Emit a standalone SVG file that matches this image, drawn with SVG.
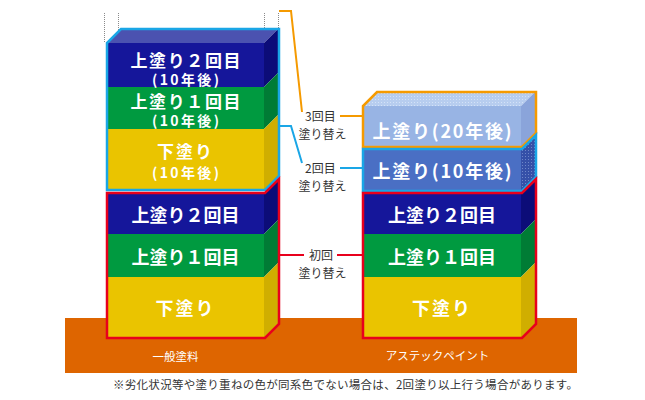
<svg xmlns="http://www.w3.org/2000/svg" width="645" height="400" viewBox="0 0 645 400">
<style>
.t{font-family:"Noto Sans CJK JP","Noto Sans",sans-serif;font-weight:bold;fill:#fff;text-anchor:middle}
.big{font-size:18px}
.mid{font-size:17px}
.sm{font-size:14px}
.lab{font-family:"Noto Sans CJK JP","Noto Sans",sans-serif;font-size:12px;fill:#333}
.gl{font-family:"Noto Sans CJK JP","Noto Sans",sans-serif;font-size:11.5px;fill:#fff;text-anchor:middle}
.db{fill:#15169A}.dbs{fill:#0C0C78}.dbt{fill:#4B52B0}
.gr{fill:#009A40}.grs{fill:#007C35}
.ye{fill:#EAC400}.yes{fill:#D0AE00}
.ol{fill:none;stroke-width:2.5;stroke-linejoin:miter}
.dot{stroke:#8a8a8a;stroke-width:1;stroke-dasharray:1 1;fill:none}
.con{fill:none;stroke-width:2}
</style>
<defs>
<pattern id="dots" width="3" height="3" patternUnits="userSpaceOnUse"><rect width="3" height="3" fill="#B7CDEF"/><rect width="1" height="1" fill="#D4E2F7"/></pattern>
<pattern id="dots2" width="3" height="3" patternUnits="userSpaceOnUse"><rect width="3" height="3" fill="#3550A8"/><rect width="1" height="1" fill="#6E86C8"/></pattern>
</defs>
<rect id="ground" x="65" y="318" width="512" height="55" fill="#DE6500"/>
<g id="dims">
<path class="dot" d="M104.5,13V43M118.5,13V30M264.5,13V43M278.5,13V29"/>
</g>
<g id="left-upper">
<polygon class="dbt" points="107,43 121,29 278,29 264,43"/>
<rect class="db" x="107" y="43" width="157" height="44"/>
<rect class="gr" x="107" y="87" width="157" height="42"/>
<rect class="ye" x="107" y="129" width="157" height="61"/>
<polygon class="dbs" points="264,43 278,29 278,73 264,87"/>
<polygon class="grs" points="264,87 278,73 278,115 264,129"/>
<polygon class="yes" points="264,129 278,115 278,176 264,190"/>
<path class="ol" stroke="#1AA6E6" d="M107,190V43L121,29H279V176L265,190Z"/>
<text class="t mid" x="185.5" y="66.5" textLength="110">上塗り２回目</text>
<text class="t sm" x="185.5" y="85" textLength="67">(10年後)</text>
<text class="t mid" x="185.5" y="107.5" textLength="110">上塗り１回目</text>
<text class="t sm" x="185.5" y="126" textLength="67">(10年後)</text>
<text class="t mid" x="185.5" y="157.5" letter-spacing="2">下塗り</text>
<text class="t sm" x="185.5" y="178" textLength="67">(10年後)</text>
</g>
<g id="left-lower">
<rect class="db" x="107" y="193" width="157" height="41"/>
<rect class="gr" x="107" y="234" width="157" height="43"/>
<rect class="ye" x="107" y="277" width="157" height="61"/>
<polygon class="dbs" points="264,193 278,179 278,220 264,234"/>
<polygon class="grs" points="264,234 278,220 278,263 264,277"/>
<polygon class="yes" points="264,277 278,263 278,324 264,338"/>
<path class="ol" stroke="#E8001C" d="M107,193H265L279,179V324L265,338H107Z"/>
<text class="t big" x="185.5" y="221.5">上塗り２回目</text>
<text class="t big" x="185.5" y="263.5">上塗り１回目</text>
<text class="t big" x="185.5" y="314.5" letter-spacing="2">下塗り</text>
</g>
<g id="right-20">
<polygon fill="url(#dots)" points="363,106 377,92 535,92 521,106"/>
<rect x="363" y="106" width="158" height="41" fill="#98B4E4"/>
<polygon fill="#8AA4DA" points="521,106 535,92 535,133 521,147"/>
<path class="ol" stroke="#F59A00" d="M363,147V106L377,92H536V133L522,147Z"/>
<text class="t big" x="442" y="138" textLength="139">上塗り(20年後)</text>
</g>
<g id="right-10">
<rect x="363" y="149" width="158" height="42" fill="#4A6FC4"/>
<polygon fill="url(#dots2)" points="521,149 535,135 535,177 521,191"/>
<path class="ol" stroke="#1AA6E6" d="M363,191V149H522L536,135V177L522,191Z"/>
<text class="t big" x="442" y="178" textLength="139">上塗り(10年後)</text>
</g>
<g id="right-lower">
<rect class="db" x="363" y="193" width="158" height="41"/>
<rect class="gr" x="363" y="234" width="158" height="43"/>
<rect class="ye" x="363" y="277" width="158" height="61"/>
<polygon class="dbs" points="521,193 535,179 535,220 521,234"/>
<polygon class="grs" points="521,234 535,220 535,263 521,277"/>
<polygon class="yes" points="521,277 535,263 535,324 521,338"/>
<path class="ol" stroke="#E8001C" d="M363,193H522L536,179V324L522,338H363Z"/>
<text class="t big" x="442" y="221.5">上塗り２回目</text>
<text class="t big" x="442" y="263.5">上塗り１回目</text>
<text class="t big" x="442" y="314.5" letter-spacing="2">下塗り</text>
</g>
<g id="connectors">
<path class="con" stroke="#F59A00" d="M279,11H291L302,112M340,116H363"/>
<path class="con" stroke="#1AA6E6" d="M279,126H291L302,163M340,168H363"/>
<path class="con" stroke="#E8001C" d="M279,255H304M337,255H363"/>
</g>
<g id="labels">
<text class="lab" x="305" y="120.5">3回目</text>
<text class="lab" x="322.5" y="138.5" text-anchor="middle">塗り替え</text>
<text class="lab" x="305" y="172.5">2回目</text>
<text class="lab" x="322.5" y="190.5" text-anchor="middle">塗り替え</text>
<text class="lab" x="321" y="259.5" text-anchor="middle">初回</text>
<text class="lab" x="322.5" y="277.5" text-anchor="middle">塗り替え</text>
</g>
<g id="ground-labels">
<text class="gl" x="175.5" y="361">一般塗料</text>
<text class="gl" x="437.5" y="360">アステックペイント</text>
</g>
<text x="113" y="389" font-family="'Noto Sans CJK JP','Noto Sans',sans-serif" font-size="11.5" fill="#333" textLength="465">※劣化状況等や塗り重ねの色が同系色でない場合は、2回塗り以上行う場合があります。</text>
</svg>
